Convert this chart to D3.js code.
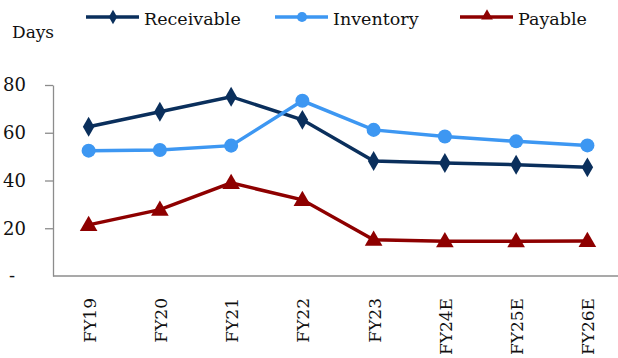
<!DOCTYPE html>
<html>
<head>
<meta charset="utf-8">
<script src="https://cdn.jsdelivr.net/npm/d3@7"></script>
<style>
  body { margin: 0; background: #fff; }
  svg { display: block; font-family: "DejaVu Serif", serif; }
</style>
</head>
<body>
<svg id="chart" width="618" height="358"></svg>
<script>
const years = ["FY19", "FY20", "FY21", "FY22", "FY23", "FY24E", "FY25E", "FY26E"]
const receivable = [62.5, 68.8, 75.1, 65.4, 48.2, 47.3, 46.6, 45.5]
const inventory = [52.5, 52.8, 54.6, 73.4, 61.2, 58.4, 56.4, 54.7]
const payable = [21.4, 27.8, 39.0, 31.9, 15.2, 14.6, 14.6, 14.7]
const yTicks = [0, 20, 40, 60, 80]

const dims = {
	width: 618,
	height: 358,
	margin: {top: 85, left: 53, right: -5, bottom: 82}
}

const series = [
	{name: "Receivable", values: receivable, color: "#0a2f5c", shape: d3.symbolDiamond},
	{name: "Inventory", values: inventory, color: "#3d97f2", shape: d3.symbolCircle},
	{name: "Payable", values: payable, color: "#8e0000", shape: d3.symbolTriangle}
]

const svg = d3.select("#chart")

const x = d3.scalePoint()
	.domain(years)
	.range([dims.margin.left, dims.width - dims.margin.right])
	.padding(0.5)

const y = d3.scaleLinear()
	.domain([0, 80])
	.range([dims.height - dims.margin.bottom, dims.margin.top])

// y axis
const yAxis = svg.append("g")
	.attr("transform", `translate(${dims.margin.left},0)`)
	.call(d3.axisLeft(y).tickValues(yTicks).tickSize(8).tickSizeOuter(0).tickFormat(d => d === 0 ? "-" : d))
yAxis.select(".domain").attr("stroke", "#8c8c8c").attr("stroke-width", 1.3)
yAxis.selectAll(".tick line").attr("stroke", "#8c8c8c").attr("stroke-width", 1.3)
	.filter(d => d === 0).remove()
yAxis.selectAll(".tick text")
	.attr("x", -27)
	.attr("fill", "#111")
	.style("font-size", "18px")
	.style("font-family", "DejaVu Serif, serif")
yAxis.selectAll(".tick text").filter(d => d === 0).attr("x", -38)

// x axis
const xAxis = svg.append("g")
	.attr("transform", `translate(0,${y(0)})`)
	.call(d3.axisBottom(x).tickSize(0).tickSizeOuter(0))
xAxis.select(".domain").attr("d", `M${dims.margin.left},0H${dims.width}`)
	.attr("stroke", "#8c8c8c").attr("stroke-width", 1.3)
xAxis.selectAll(".tick text")
	.attr("transform", "rotate(-90)")
	.attr("text-anchor", "end")
	.attr("x", -22)
	.attr("y", 0)
	.attr("dy", "0.38em")
	.attr("fill", "#111")
	.style("font-size", "17px")
	.style("font-family", "DejaVu Serif, serif")

// lines + markers
const line = d3.line()
	.x((d, i) => x(years[i]))
	.y(d => y(d))

series.forEach(s => {
	svg.append("path")
		.datum(s.values)
		.attr("fill", "none")
		.attr("stroke", s.color)
		.attr("stroke-width", 3.5)
		.attr("d", line)

	const size = s.shape === d3.symbolCircle ? 155 : s.shape === d3.symbolDiamond ? 115 : 135
	svg.append("g").selectAll("path")
		.data(s.values)
		.join("path")
			.attr("transform", (d, i) => `translate(${x(years[i])},${y(d) + (s.shape === d3.symbolTriangle ? 1 : 0)})`)
			.attr("d", d3.symbol(s.shape, size))
			.attr("fill", s.color)
})

// legend
svg.append("text")
	.attr("x", 12)
	.attr("y", 38)
	.attr("fill", "#111")
	.style("font-size", "17px")
	.text("Days")

const legendX = [86, 275, 460]
const legend = svg.append("g")
	.selectAll("g")
	.data(series)
	.join("g")
		.attr("transform", (d, i) => `translate(${legendX[i]},17)`)

legend.append("line")
	.attr("x1", 0).attr("x2", 53)
	.attr("stroke", d => d.color)
	.attr("stroke-width", 3.5)

legend.append("path")
	.attr("transform", d => `translate(27,${d.shape === d3.symbolTriangle ? -1 : 0})`)
	.attr("d", d => d3.symbol(d.shape, d.shape === d3.symbolCircle ? 80 : 60)())
	.attr("fill", d => d.color)

legend.append("text")
	.attr("x", 58)
	.attr("y", 7.5)
	.attr("fill", "#111")
	.style("font-size", "17.5px")
	.text(d => d.name)
</script>
</body>
</html>
